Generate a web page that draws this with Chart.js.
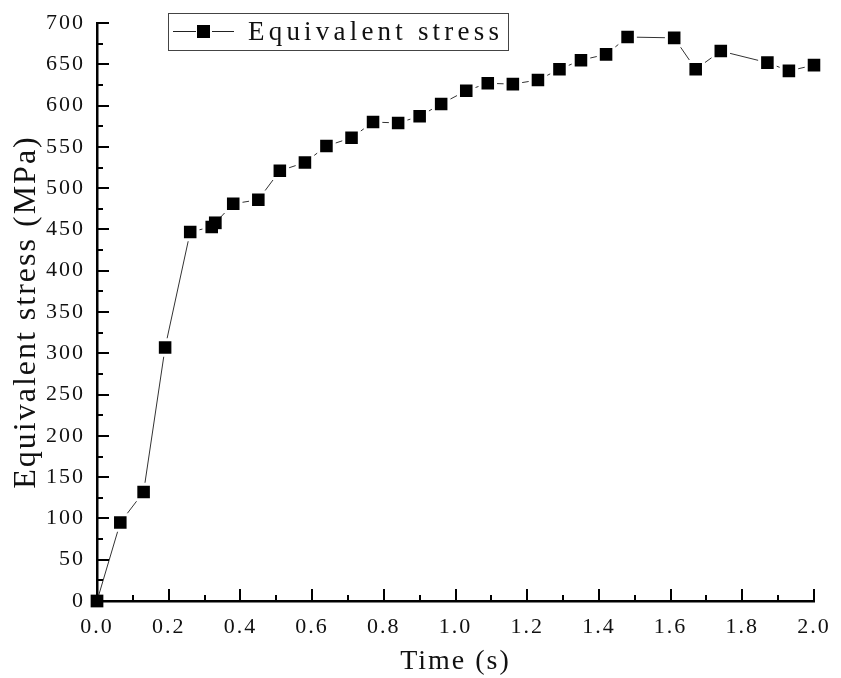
<!DOCTYPE html>
<html>
<head>
<meta charset="utf-8">
<script src="https://cdn.jsdelivr.net/npm/chart.js@4.4.1/dist/chart.umd.min.js"></script>
<style>
  html, body { margin: 0; padding: 0; background: #fff; }
  #stress { display: block; }
</style>
</head>
<body>
<canvas id="stress" width="841" height="678"></canvas>
<script>
// values
const seriesName = "Equivalent stress";
const times = [0, 0.065, 0.13, 0.19, 0.26, 0.32, 0.33, 0.38, 0.45, 0.51, 0.58,
  0.64, 0.71, 0.77, 0.84, 0.9, 0.96, 1.03, 1.09, 1.16, 1.23, 1.29, 1.35,
  1.42, 1.48, 1.61, 1.67, 1.74, 1.87, 1.93, 2.0];
const stress = [0, 95, 132, 307, 447, 453, 458, 481, 486, 521, 531,
  551, 561, 580, 579, 587, 602, 618, 627, 626, 631, 644, 655,
  662, 683, 682, 644, 666, 652, 642, 649];

const xTitle = "Time (s)";
const yTitle = "Equivalent stress (MPa)";
const xMajor = [0, 0.2, 0.4, 0.6, 0.8, 1.0, 1.2, 1.4, 1.6, 1.8, 2.0];
const xMinor = [0.1, 0.3, 0.5, 0.7, 0.9, 1.1, 1.3, 1.5, 1.7, 1.9];
const yMajor = [0, 50, 100, 150, 200, 250, 300, 350, 400, 450, 500, 550, 600, 650, 700];
const yMinor = [25, 75, 125, 175, 225, 275, 325, 375, 425, 475, 525, 575, 625, 675];

const serif = "'Liberation Serif', 'DejaVu Serif', serif";

// the original font is wide-set, so space the letters out a bit
const wideText = {
  id: "wideText",
  beforeLayout(chart) { chart.ctx.letterSpacing = "2px"; },
  beforeDraw(chart) { chart.ctx.letterSpacing = "2px"; }
};

// inward ticks, origin style
const innerTicks = {
  id: "innerTicks",
  afterDatasetsDraw(chart) {
    const { ctx, chartArea, scales } = chart;
    ctx.save();
    ctx.strokeStyle = "#000";
    ctx.lineWidth = 2;
    ctx.beginPath();
    xMajor.concat(xMinor).forEach(v => {
      const px = Math.round(scales.x.getPixelForValue(v));
      const len = xMajor.includes(v) ? 12 : 6;
      ctx.moveTo(px, chartArea.bottom);
      ctx.lineTo(px, chartArea.bottom - len);
    });
    yMajor.concat(yMinor).forEach(v => {
      const py = Math.round(scales.y.getPixelForValue(v));
      const len = yMajor.includes(v) ? 12 : 6;
      ctx.moveTo(chartArea.left, py);
      ctx.lineTo(chartArea.left + len, py);
    });
    ctx.stroke();
    ctx.restore();
  }
};

// boxed legend sitting over the plot
const boxLegend = {
  id: "boxLegend",
  afterDraw(chart) {
    const ctx = chart.ctx;
    ctx.save();
    ctx.strokeStyle = "#444";
    ctx.lineWidth = 1;
    ctx.strokeRect(168.5, 13.5, 340, 37);
    ctx.strokeStyle = "#222";
    ctx.beginPath();
    ctx.moveTo(173, 31.5); ctx.lineTo(196, 31.5);
    ctx.moveTo(212, 31.5); ctx.lineTo(234, 31.5);
    ctx.stroke();
    ctx.fillStyle = "#000";
    ctx.fillRect(197, 25, 13, 13);
    ctx.font = "27px " + serif;
    ctx.letterSpacing = "4.2px";
    ctx.textBaseline = "middle";
    ctx.fillStyle = "#111";
    ctx.fillText(seriesName, 248, 33);
    ctx.restore();
  }
};

const points = times.map((t, i) => ({ x: t, y: stress[i] }));

// white rim gives the gap between line and symbol, except where symbols touch
const noRim = c => c.dataIndex === 0 || c.dataIndex === 6;

new Chart(document.getElementById("stress"), {
  type: "line",
  data: {
    datasets: [{
      label: seriesName,
      data: points,
      borderColor: "#333",
      borderWidth: 1,
      pointStyle: "rect",
      pointRadius: c => noRim(c) ? 9 : 11,
      pointHoverRadius: c => noRim(c) ? 9 : 11,
      pointBackgroundColor: "#000",
      pointBorderColor: "#fff",
      pointBorderWidth: c => noRim(c) ? 0 : 3,
      tension: 0,
      clip: false
    }]
  },
  options: {
    responsive: false,
    animation: false,
    events: [],
    layout: { padding: { left: 0, right: 27, top: 23, bottom: 0 } },
    plugins: {
      legend: { display: false },
      tooltip: { enabled: false }
    },
    scales: {
      x: {
        type: "linear",
        min: 0,
        max: 2,
        afterFit: s => { s.height = 77; s.paddingLeft = 0; s.paddingRight = 0; },
        afterBuildTicks: s => { s.ticks = xMajor.map(v => ({ value: v })); },
        grid: { display: false, drawTicks: false },
        border: { display: true, color: "#000", width: 2.5 },
        ticks: {
          color: "#111",
          font: { family: serif, size: 22 },
          padding: 13,
          maxRotation: 0,
          callback: v => Number(v).toFixed(1)
        },
        title: {
          display: true,
          text: xTitle,
          color: "#111",
          font: { family: serif, size: 28 },
          padding: { top: 0, bottom: 0 }
        }
      },
      y: {
        min: 0,
        max: 700,
        afterFit: s => { s.width = 97; s.paddingTop = 0; s.paddingBottom = 0; },
        afterBuildTicks: s => { s.ticks = yMajor.map(v => ({ value: v })); },
        grid: { display: false, drawTicks: false },
        border: { display: true, color: "#000", width: 2.5 },
        ticks: {
          color: "#111",
          font: { family: serif, size: 22 },
          padding: 12
        },
        title: {
          display: true,
          text: yTitle,
          color: "#111",
          font: { family: serif, size: 32 },
          padding: { top: 7, bottom: 0 }
        }
      }
    }
  },
  plugins: [wideText, innerTicks, boxLegend]
});
</script>
</body>
</html>
